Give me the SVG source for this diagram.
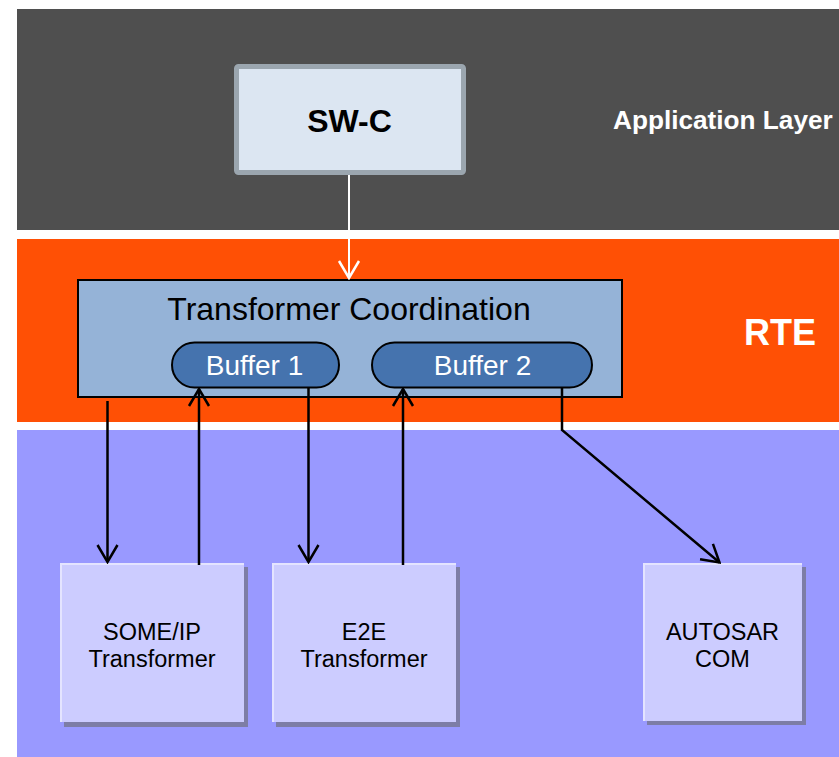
<svg xmlns="http://www.w3.org/2000/svg" width="839" height="757" viewBox="0 0 839 757">
<style>
text{font-family:"Liberation Sans",Arial,sans-serif;}
.lbl{fill:#FFFFFF;font-weight:bold;}
.box{fill:#CCCCFF;}
.shadow{fill:#7D7DA6;}
.edge{fill:none;stroke:#E4E4FF;stroke-width:2;}
.btxt{font-size:23.5px;fill:#000;text-anchor:middle;}
.buf{fill:#4573AE;stroke:#000;stroke-width:2;}
.buftxt{font-size:28px;fill:#FFFFFF;text-anchor:middle;}
.conn{fill:none;stroke:#000;stroke-width:2.5;marker-end:url(#arr);}
</style>
<defs>
<marker id="arr" markerUnits="userSpaceOnUse" viewBox="-20 -12 22 24" markerWidth="22" markerHeight="24" refX="0" refY="0" orient="auto">
<path d="M-17,-10 L0,0 L-17,10" fill="none" stroke="#000" stroke-width="2.5"/>
</marker>
<marker id="arrw" markerUnits="userSpaceOnUse" viewBox="-20 -12 22 24" markerWidth="22" markerHeight="24" refX="0" refY="0" orient="auto">
<path d="M-17,-10 L0,0 L-17,10" fill="none" stroke="#FFF" stroke-width="2.5"/>
</marker>
</defs>
<rect width="839" height="757" fill="#FFFFFF"/>
<g id="layer-app">
<rect x="17" y="9" width="822" height="221" fill="#4F4F4F"/>
<text class="lbl" x="613" y="129" font-size="26.2">Application Layer</text>
</g>
<g id="layer-rte">
<rect x="17" y="239" width="822" height="183" fill="#FF5005"/>
<text class="lbl" x="744" y="345" font-size="36">RTE</text>
</g>
<g id="layer-bsw">
<rect x="17" y="430" width="822" height="327" fill="#9999FF"/>
</g>
<g id="swc">
<rect x="236.5" y="66.5" width="227" height="106" rx="2" fill="#DCE6F2" stroke="#9BA6AF" stroke-width="5"/>
<text x="349.5" y="132" font-size="32" font-weight="bold" text-anchor="middle" fill="#000">SW-C</text>
</g>
<g id="tc">
<rect x="78" y="280" width="544" height="117" fill="#95B3D7" stroke="#000" stroke-width="2"/>
<text x="349" y="320" font-size="32" text-anchor="middle" fill="#000">Transformer Coordination</text>
</g>
<g id="buffer1">
<rect class="buf" x="172" y="342.5" width="167" height="45" rx="22.5"/>
<text class="buftxt" x="254.5" y="375">Buffer 1</text>
</g>
<g id="buffer2">
<rect class="buf" x="372" y="342.5" width="220" height="45" rx="22.5"/>
<text class="buftxt" x="482.5" y="375">Buffer 2</text>
</g>
<g id="someip">
<rect class="shadow" x="64" y="567" width="184" height="160"/>
<rect class="box" x="60" y="563" width="184" height="159"/>
<polyline class="edge" points="61,722 61,564 244,564"/>
<text class="btxt" x="152" y="640">SOME/IP</text>
<text class="btxt" x="152" y="667">Transformer</text>
</g>
<g id="e2e">
<rect class="shadow" x="276" y="567" width="184" height="160"/>
<rect class="box" x="272" y="563" width="184" height="159"/>
<polyline class="edge" points="273,722 273,564 456,564"/>
<text class="btxt" x="364" y="640">E2E</text>
<text class="btxt" x="364" y="667">Transformer</text>
</g>
<g id="autosarcom">
<rect class="shadow" x="647" y="567" width="159" height="158"/>
<rect class="box" x="643" y="563" width="159" height="158"/>
<polyline class="edge" points="644,721 644,564 802,564"/>
<text class="btxt" x="722.5" y="640">AUTOSAR</text>
<text class="btxt" x="722.5" y="667">COM</text>
</g>
<g id="connectors">
<path d="M349,175 V278" fill="none" stroke="#FFF" stroke-width="2" marker-end="url(#arrw)"/>
<path class="conn" d="M107.5,401 V562"/>
<path class="conn" d="M199,565 V389"/>
<path class="conn" d="M308.5,387.5 V562"/>
<path class="conn" d="M403,565 V389"/>
<path class="conn" d="M562,387.5 V430 L719.5,562.5"/>
</g>
</svg>
